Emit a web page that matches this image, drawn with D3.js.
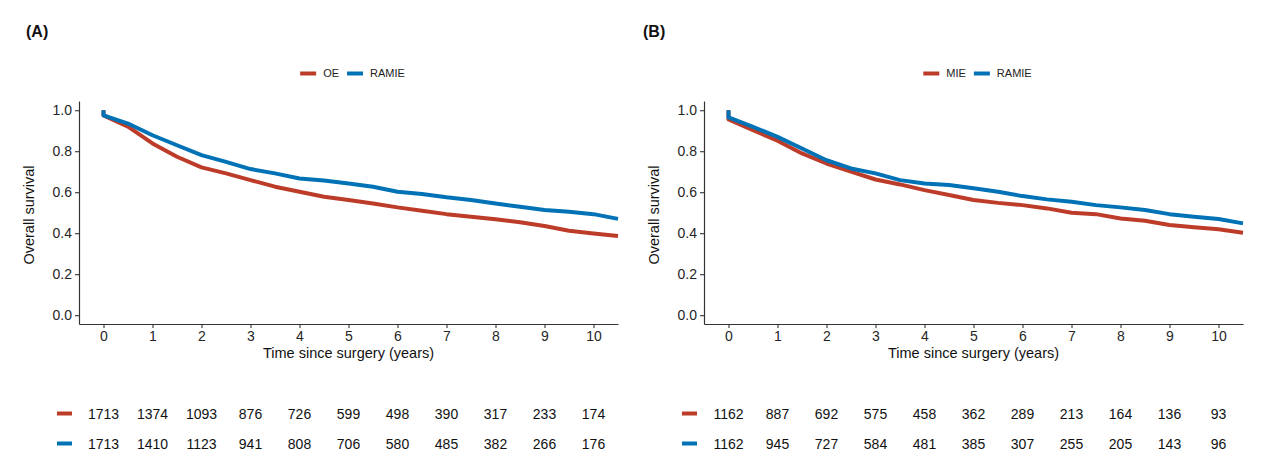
<!DOCTYPE html>
<html>
<head>
<meta charset="utf-8">
<script src="https://cdn.jsdelivr.net/npm/d3@7"></script>
<style>
  html, body { margin: 0; padding: 0; background: #fff; }
  svg { display: block; font-family: "Liberation Sans", Arial, sans-serif; }
</style>
</head>
<body>
<svg id="chart" width="1280" height="472"></svg>
<script>
// ---------- data ----------
const times = [0, 0, 0.5, 1, 1.5, 2, 2.5, 3, 3.5, 4, 4.5, 5, 5.5, 6, 6.5, 7, 7.5, 8, 8.5, 9, 9.5, 10, 10.5];

const survA_OE    = [1.0, 0.975, 0.920, 0.838, 0.773, 0.721, 0.692, 0.659, 0.627, 0.602, 0.578, 0.562, 0.545, 0.526, 0.510, 0.493, 0.480, 0.468, 0.453, 0.435, 0.412, 0.399, 0.386];
const survA_RAMIE = [1.0, 0.975, 0.935, 0.878, 0.829, 0.781, 0.748, 0.713, 0.692, 0.667, 0.657, 0.643, 0.627, 0.602, 0.591, 0.575, 0.562, 0.545, 0.529, 0.513, 0.505, 0.493, 0.470];
const survB_MIE   = [1.0, 0.955, 0.903, 0.851, 0.789, 0.740, 0.700, 0.662, 0.638, 0.610, 0.586, 0.562, 0.548, 0.537, 0.521, 0.500, 0.493, 0.472, 0.461, 0.440, 0.429, 0.419, 0.402];
const survB_RAMIE = [1.0, 0.965, 0.919, 0.870, 0.813, 0.756, 0.716, 0.692, 0.659, 0.643, 0.635, 0.619, 0.602, 0.581, 0.565, 0.553, 0.537, 0.526, 0.513, 0.493, 0.480, 0.469, 0.448];

const riskTimes = [0, 1, 2, 3, 4, 5, 6, 7, 8, 9, 10];
const riskA_OE    = [1713, 1374, 1093, 876, 726, 599, 498, 390, 317, 233, 174];
const riskA_RAMIE = [1713, 1410, 1123, 941, 808, 706, 580, 485, 382, 266, 176];
const riskB_MIE   = [1162, 887, 692, 575, 458, 362, 289, 213, 164, 136, 93];
const riskB_RAMIE = [1162, 945, 727, 584, 481, 385, 307, 255, 205, 143, 96];

const xTicks = [0, 1, 2, 3, 4, 5, 6, 7, 8, 9, 10];
const yTicks = [0, 0.2, 0.4, 0.6, 0.8, 1.0];

const panelLabels = ["(A)", "(B)"];
const groupsA = ["OE", "RAMIE"];
const groupsB = ["MIE", "RAMIE"];
const colors = ["#BC3C29", "#0072B5"];

// ---------- layout ----------
const panels = [
  { label: panelLabels[0], groups: groupsA, surv: [survA_OE, survA_RAMIE], risk: [riskA_OE, riskA_RAMIE], left: 79, right: 618, labX: 26, titleX: 29 },
  { label: panelLabels[1], groups: groupsB, surv: [survB_MIE, survB_RAMIE], risk: [riskB_MIE, riskB_RAMIE], left: 704, right: 1243, labX: 643, titleX: 654 }
];

const svg = d3.select("#chart");
svg.append("rect").attr("width", 1280).attr("height", 472).attr("fill", "#fff");

const yTop = 101, yBottom = 324;
const y = d3.scaleLinear().domain([-0.043, 1.045]).range([yBottom, yTop]);

panels.forEach(p => {
  const g = svg.append("g");
  const x = d3.scaleLinear().domain([-0.5, 10.5]).range([p.left, p.right]);

  // panel label
  g.append("text").attr("x", p.labX).attr("y", 37)
    .attr("font-size", 16).attr("font-weight", "bold").attr("fill", "#111")
    .text(p.label);

  // legend
  const legY = 73.5;
  const cx = (p.left + p.right) / 2 + 4;
  const leg = g.append("g");
  let cur = 0;
  p.groups.forEach((name, i) => {
    leg.append("line").attr("x1", cur).attr("x2", cur + 16).attr("y1", legY).attr("y2", legY)
      .attr("stroke", colors[i]).attr("stroke-width", 4);
    cur += 23;
    const t = leg.append("text").attr("x", cur).attr("y", legY).attr("dy", "0.35em")
      .attr("font-size", 11).attr("fill", "#222").text(name);
    cur += t.node().getComputedTextLength() + 8;
  });
  const legW = cur - 8;
  leg.attr("transform", `translate(${cx - legW / 2},0)`);

  // axes
  const xAxis = g.append("g").attr("transform", `translate(0,${yBottom})`)
    .call(d3.axisBottom(x).tickValues(xTicks).tickSize(4).tickSizeOuter(0).tickPadding(3).tickFormat(d3.format("d")));
  const yAxis = g.append("g").attr("transform", `translate(${p.left},0)`)
    .call(d3.axisLeft(y).tickValues(yTicks).tickSize(4).tickSizeOuter(0).tickPadding(3).tickFormat(d3.format(".1f")));
  [xAxis, yAxis].forEach(a => {
    a.select(".domain").attr("stroke", "#333").attr("stroke-width", 1.2);
    a.selectAll(".tick line").attr("stroke", "#333").attr("stroke-width", 1.1);
    a.selectAll(".tick text").attr("font-size", 14).attr("fill", "#262626")
      .attr("font-family", "'Liberation Sans', Arial, sans-serif");
  });

  // axis titles
  g.append("text").attr("x", (p.left + p.right) / 2).attr("y", 358)
    .attr("text-anchor", "middle").attr("font-size", 14.5).attr("fill", "#111")
    .text("Time since surgery (years)");
  g.append("text").attr("transform", `translate(${p.titleX},215) rotate(-90)`)
    .attr("text-anchor", "middle").attr("dy", "0.35em").attr("font-size", 14.5).attr("fill", "#111")
    .text("Overall survival");

  // curves
  const line = d3.line().x((d, i) => x(times[i])).y(d => y(d)).curve(d3.curveLinear);
  p.surv.forEach((s, i) => {
    g.append("path").datum(s).attr("d", line)
      .attr("fill", "none").attr("stroke", colors[i]).attr("stroke-width", 4)
      .attr("stroke-linejoin", "round").attr("stroke-linecap", "butt");
  });

  // risk table
  const rowY = [414.5, 444.5];
  p.risk.forEach((r, i) => {
    g.append("line").attr("x1", x(0) - 46.5).attr("x2", x(0) - 31.5)
      .attr("y1", rowY[i] - 1).attr("y2", rowY[i] - 1)
      .attr("stroke", colors[i]).attr("stroke-width", 4);
    g.selectAll(null).data(r).enter().append("text")
      .attr("x", (d, j) => x(riskTimes[j])).attr("y", rowY[i]).attr("dy", "0.35em")
      .attr("text-anchor", "middle").attr("font-size", 14).attr("fill", "#111")
      .text(d => d);
  });
});
</script>
</body>
</html>
